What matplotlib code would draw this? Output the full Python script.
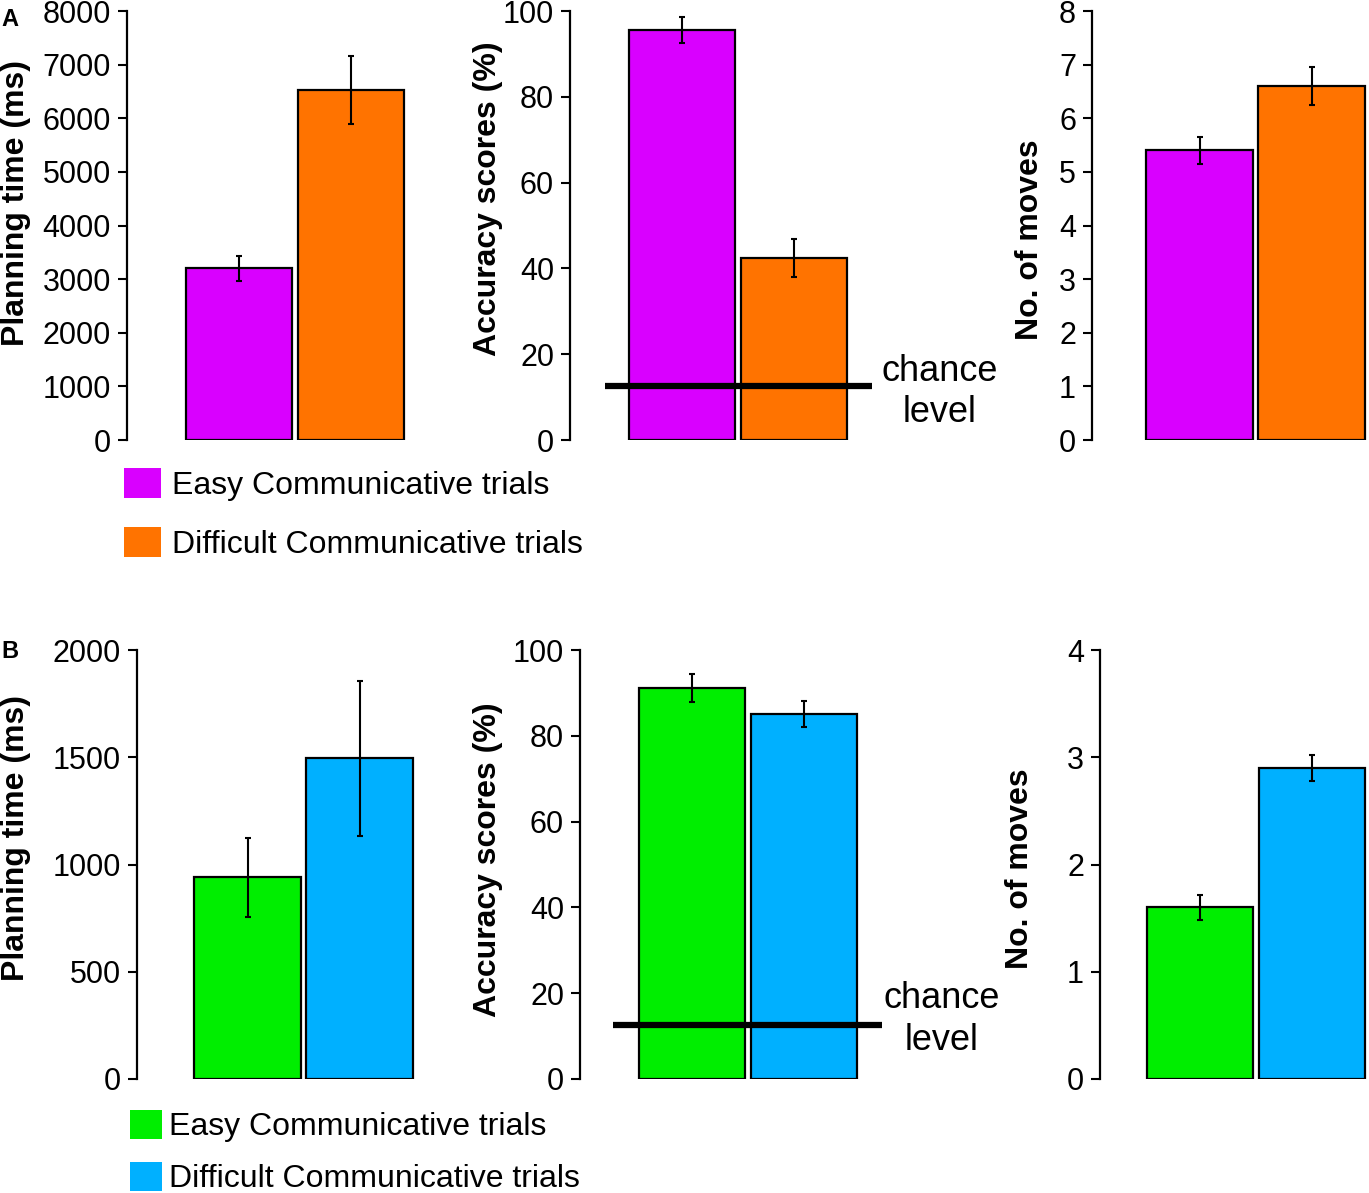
import numpy as np
import matplotlib
matplotlib.use("Agg")
import matplotlib.pyplot as plt
from matplotlib.patches import Patch

plt.rcParams['font.family'] = ['Liberation Sans', 'DejaVu Sans']

# data
conds = ['Easy Communicative trials', 'Difficult Communicative trials']

a_plan = [3200, 6530]
a_plan_err = [230, 630]
a_acc = [95.6, 42.4]
a_acc_err = [3.0, 4.4]
a_moves = [5.4, 6.6]
a_moves_err = [0.25, 0.35]

b_plan = [940, 1495]
b_plan_err = [185, 362]
b_acc = [91.1, 85.0]
b_acc_err = [3.2, 3.0]
b_moves = [1.6, 2.9]
b_moves_err = [0.12, 0.125]

chance = 12.5

cols_a = ['#d900ff', '#ff7300']
cols_b = ['#00ee00', '#00b0ff']

W, H = 1369, 1193
fig = plt.figure(figsize=(W / 100, H / 100), dpi=100)

PX_UNIT = 112.0   # pixels per bar slot
AX_W = 290


def make_ax(x_spine, y_bottom, x0, vals, errs, cols, ymax, ticks, label, lab_xy):
    ax = fig.add_axes([x_spine / W, 1 - y_bottom / H, AX_W / W, 429 / H])
    xs = np.arange(1, len(vals) + 1)
    ax.bar(xs, vals, width=0.955, color=cols, edgecolor='black', linewidth=1.6, zorder=2)
    ax.errorbar(xs, vals, yerr=errs, fmt='none', ecolor='black', elinewidth=1.5,
                capsize=2, capthick=1.5, zorder=3)
    ax.set_xlim(x0, x0 + AX_W / PX_UNIT)
    ax.set_ylim(0, ymax)
    ax.set_yticks(ticks)
    ax.set_xticks([])
    for s in ['top', 'right', 'bottom']:
        ax.spines[s].set_visible(False)
    ax.spines['left'].set_linewidth(1.6)
    ax.tick_params(axis='y', direction='out', length=6.5, width=1.5, pad=5, labelsize=22)
    ax.set_ylabel(label, fontsize=23, fontweight='bold', va='center')
    ax.yaxis.set_label_coords(*lab_xy)
    ax.patch.set_visible(False)
    return ax


def chance_line(ax, x1, x2, tx, ty):
    ax.plot([x1, x2], [chance, chance], color='black', lw=4.5, zorder=4,
            clip_on=False, solid_capstyle='butt')
    ax.text(tx, ty, 'chance\nlevel', fontsize=26, ha='center', va='center',
            linespacing=1.25)


# panel A
make_ax(127, 440, 0.0, a_plan, a_plan_err, cols_a, 8000, np.arange(0, 8001, 1000),
        'Planning time (ms)', ((16 - 127) / AX_W, 0.552))
ax = make_ax(570, 440, 0.0, a_acc, a_acc_err, cols_a, 100, np.arange(0, 101, 20),
             'Accuracy scores (%)', (-0.283, 0.562))
chance_line(ax, 0.31, 2.70, 3.30, 11.2)
make_ax(1092, 440, 0.036, a_moves, a_moves_err, cols_a, 8, np.arange(0, 9, 1),
        'No. of moves', (-0.214, 0.466))

# panel B
make_ax(137, 1079, 0.01, b_plan, b_plan_err, cols_b, 2000, np.arange(0, 2001, 500),
        'Planning time (ms)', ((16 - 137) / AX_W, 0.561))
ax = make_ax(580, 1079, 0.0, b_acc, b_acc_err, cols_b, 100, np.arange(0, 101, 20),
             'Accuracy scores (%)', (-0.317, 0.512))
chance_line(ax, 0.295, 2.70, 3.23, 13.8)
make_ax(1100, 1079, 0.107, b_moves, b_moves_err, cols_b, 4, np.arange(0, 5, 1),
        'No. of moves', (-0.276, 0.491))

# legends
hA = [Patch(facecolor=c, edgecolor='none') for c in cols_a]
fig.legend(hA, conds, loc='upper left', bbox_to_anchor=(124 / W, 1 - 468 / H),
           frameon=False, fontsize=23, handlelength=1.15, handleheight=1.08,
           handletextpad=0.36, labelspacing=0.82, borderpad=0, borderaxespad=0)
hB = [Patch(facecolor=c, edgecolor='none') for c in cols_b]
fig.legend(hB, conds, loc='upper left', bbox_to_anchor=(130 / W, 1 - 1110 / H),
           frameon=False, fontsize=23, handlelength=1.0, handleheight=1.0,
           handletextpad=0.23, labelspacing=0.62, borderpad=0, borderaxespad=0)

fig.text(1 / W, 1 - 20 / H, 'A', fontsize=17, fontweight='bold', va='center', ha='left')
fig.text(1 / W, 1 - 652 / H, 'B', fontsize=17, fontweight='bold', va='center', ha='left')

fig.savefig('out.png', dpi=100)
